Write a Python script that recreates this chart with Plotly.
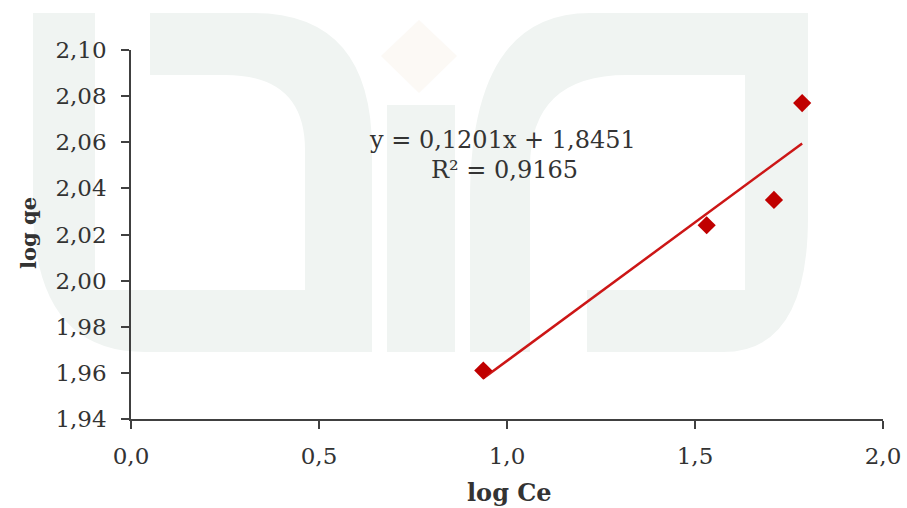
import plotly.graph_objects as go

# Freundlich isotherm: log Ce vs log qe
log_ce = [0.937, 1.531, 1.710, 1.785]
log_qe = [1.961, 2.024, 2.035, 2.077]

# Linear trendline parameters
slope = 0.1201
intercept = 1.8451
r_squared = 0.9165

x_range = [0.0, 2.0]
y_range = [1.94, 2.10]
x_title = "log Ce"
y_title = "log qe"

W, H = 907, 508
ML, MR, MT, MB = 131, 24, 50, 89
FONT = "DejaVu Serif"
TEXT = "#333333"
AXIS = "#404040"


def paper(xpix, ypix):
    """Pixel position on the page -> paper coordinates."""
    return ((xpix - ML) / (W - ML - MR), (H - MB - ypix) / (H - MT - MB))


def path(segments):
    out = []
    for cmd, pts in segments:
        if cmd == "Q":
            (a, b) = pts
            out.append("Q %.5f,%.5f %.5f,%.5f" % (*paper(*a), *paper(*b)))
        else:
            for p in pts:
                out.append("%s %.5f,%.5f" % (cmd, *paper(*p)))
                if cmd == "M":
                    cmd = "L"
    return " ".join(out) + " Z"


fig = go.Figure()

# trendline over the span of the data
x0, x1 = min(log_ce), max(log_ce)
fig.add_trace(go.Scatter(
    x=[x0, x1], y=[slope * x0 + intercept, slope * x1 + intercept],
    mode="lines", line=dict(color="#cc1616", width=2.5),
    hoverinfo="skip", showlegend=False))

fig.add_trace(go.Scatter(
    x=log_ce, y=log_qe, mode="markers",
    marker=dict(symbol="diamond", size=14, color="#c00000"),
    showlegend=False))

# faint background emblem
wm = "#f0f4f2"
shapes = []
left_shape = [
    ("M", [(33, 13)]), ("L", [(95, 13), (95, 290), (305, 290), (305, 150)]),
    ("Q", [(305, 75), (225, 75)]), ("L", [(150, 75), (150, 13), (253, 13)]),
    ("Q", [(372, 13), (372, 150)]), ("L", [(372, 352), (145, 352)]),
    ("Q", [(33, 352), (33, 205)]),
]
right_shape = [
    ("M", [(470, 352)]), ("L", [(470, 200)]), ("Q", [(470, 13), (590, 13)]),
    ("L", [(808, 13), (808, 217)]), ("Q", [(808, 352), (723, 352)]),
    ("L", [(587, 352), (587, 290), (745, 290), (745, 75), (627, 75)]),
    ("Q", [(530, 75), (530, 167)]), ("L", [(530, 352)]),
]
middle_bar = [("M", [(387, 105)]), ("L", [(455, 105), (455, 352), (387, 352)])]
diamond = [("M", [(419, 20)]), ("L", [(457, 56), (419, 93), (381, 56)])]

for pts, col in [(left_shape, wm), (right_shape, wm), (middle_bar, wm),
                 (diamond, "#fcf9f5")]:
    shapes.append(dict(type="path", path=path(pts), xref="paper", yref="paper",
                       fillcolor=col, line=dict(width=0), layer="below"))

eq_text = ("y = %.4fx + %.4f" % (slope, intercept)).replace(".", ",")
r2_text = ("R² = %.4f" % r_squared).replace(".", ",")

annotations = []
for txt, (xp, yp), size, bold in [
    (eq_text, (502, 140), 24, False),
    (r2_text, (504, 170), 24, False),
    (x_title, (509, 492), 24, True),
]:
    ax_, ay_ = paper(xp, yp)
    annotations.append(dict(
        text="<b>%s</b>" % txt if bold else txt, x=ax_, y=ay_,
        xref="paper", yref="paper", showarrow=False,
        xanchor="center", yanchor="middle",
        font=dict(family=FONT, size=size, color=TEXT)))

tx, ty = paper(28, 233)
annotations.append(dict(
    text="<b>%s</b>" % y_title, x=tx, y=ty, xref="paper", yref="paper",
    showarrow=False, textangle=-90, xanchor="center", yanchor="middle",
    font=dict(family=FONT, size=21, color=TEXT)))

fig.update_layout(
    width=W, height=H,
    margin=dict(l=ML, r=MR, t=MT, b=MB, autoexpand=False),
    paper_bgcolor="white", plot_bgcolor="rgba(0,0,0,0)",
    separators=",.",
    shapes=shapes, annotations=annotations,
    xaxis=dict(range=x_range, dtick=0.5, tick0=0, tickformat=".1f",
               automargin=False,
               showgrid=False, zeroline=False, showline=True,
               linecolor=AXIS, linewidth=1.5, ticks="outside", ticklen=8,
               tickwidth=1.5, tickcolor=AXIS, ticklabelstandoff=8,
               tickfont=dict(family=FONT, size=23, color=TEXT)),
    yaxis=dict(range=y_range, dtick=0.02, tick0=1.94, tickformat=".2f",
               automargin=False,
               showgrid=False, zeroline=False, showline=True,
               linecolor=AXIS, linewidth=1.5, ticks="outside", ticklen=8,
               tickwidth=1.5, tickcolor=AXIS, ticklabelstandoff=10,
               tickfont=dict(family=FONT, size=23, color=TEXT)),
)

fig.write_html("out.html")
